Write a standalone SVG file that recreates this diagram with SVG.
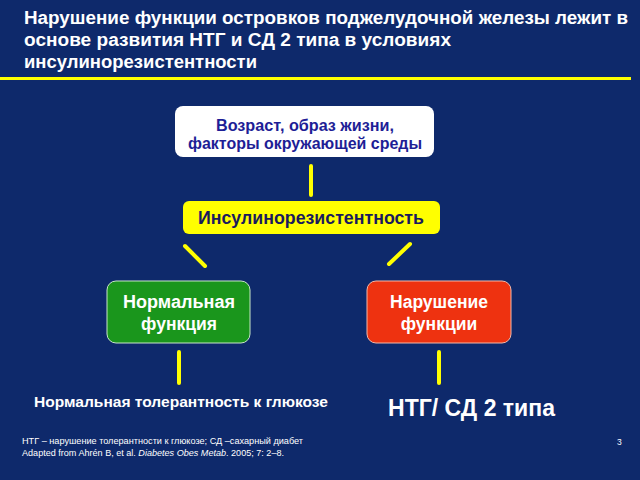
<svg xmlns="http://www.w3.org/2000/svg" width="640" height="480" viewBox="0 0 640 480">
<style>
.t{font-family:"Liberation Sans",Arial,sans-serif;font-weight:bold}
.title{fill:#fff;font-size:18px}
.w{fill:#fff}
.conn{stroke:#ffff00;stroke-width:4;stroke-linecap:round;fill:none}
.foot{font-family:"Liberation Sans",Arial,sans-serif;font-size:8.5px;fill:#fff}
</style>
<rect width="640" height="480" fill="#0e296b"/>
<g id="title">
<text class="t title" x="24" y="24" textLength="604" lengthAdjust="spacingAndGlyphs">Нарушение функции островков поджелудочной железы лежит в</text>
<text class="t title" x="24" y="46" textLength="427" lengthAdjust="spacingAndGlyphs">основе развития НТГ и СД 2 типа в условиях</text>
<text class="t title" x="24" y="68" textLength="233" lengthAdjust="spacingAndGlyphs">инсулинорезистентности</text>
<rect x="0" y="77" width="631" height="3" fill="#ffff00"/>
</g>
<g id="connectors">
<line class="conn" x1="311" y1="166" x2="311" y2="195"/>
<line class="conn" x1="185" y1="246" x2="205" y2="266"/>
<line class="conn" x1="410" y1="244" x2="389" y2="264"/>
<line class="conn" x1="179" y1="352" x2="179" y2="383"/>
<line class="conn" x1="439" y1="352" x2="439" y2="383"/>
</g>
<g id="env">
<rect x="175" y="106" width="259" height="51" rx="8" fill="#fff"/>
<text class="t" x="305" y="131" font-size="16" fill="#1e1e96" text-anchor="middle" textLength="178" lengthAdjust="spacingAndGlyphs">Возраст, образ жизни,</text>
<text class="t" x="305" y="149" font-size="16" fill="#1e1e96" text-anchor="middle" textLength="234" lengthAdjust="spacingAndGlyphs">факторы окружающей среды</text>
</g>
<g id="ir">
<rect x="183" y="201" width="257" height="33" rx="6" fill="#ffff00"/>
<text class="t" x="311" y="224" font-size="17.5" fill="#1a1a5e" text-anchor="middle" textLength="226" lengthAdjust="spacingAndGlyphs">Инсулинорезистентность</text>
</g>
<g id="normal">
<rect x="107" y="281" width="143" height="62" rx="9" fill="#1a961c" stroke="#c8e6c8" stroke-width="1"/>
<text class="t w" x="179" y="308" font-size="17.5" text-anchor="middle" textLength="112" lengthAdjust="spacingAndGlyphs">Нормальная</text>
<text class="t w" x="179" y="330" font-size="17.5" text-anchor="middle">функция</text>
</g>
<g id="impaired">
<rect x="367" y="281" width="144" height="62" rx="9" fill="#ee3210" stroke="#f4b8a8" stroke-width="1"/>
<text class="t w" x="439" y="308" font-size="17.5" text-anchor="middle">Нарушение</text>
<text class="t w" x="439" y="330" font-size="17.5" text-anchor="middle">функции</text>
</g>
<g id="ngt">
<text class="t w" x="181" y="407" font-size="15.5" text-anchor="middle" textLength="294" lengthAdjust="spacingAndGlyphs">Нормальная толерантность к глюкозе</text>
</g>
<g id="igt">
<text class="t w" x="388" y="416" font-size="23" textLength="167" lengthAdjust="spacingAndGlyphs">НТГ/ СД 2 типа</text>
</g>
<g id="footnote">
<text class="foot" x="22" y="444" textLength="281" lengthAdjust="spacingAndGlyphs">НТГ – нарушение толерантности к глюкозе;  СД –сахарный диабет</text>
<text class="foot" x="22" y="456" textLength="262" lengthAdjust="spacingAndGlyphs">Adapted from Ahrén B, et al. <tspan font-style="italic">Diabetes Obes Metab</tspan>. 2005; 7: 2–8.</text>
<text class="foot" x="617" y="445">3</text>
</g>
</svg>
